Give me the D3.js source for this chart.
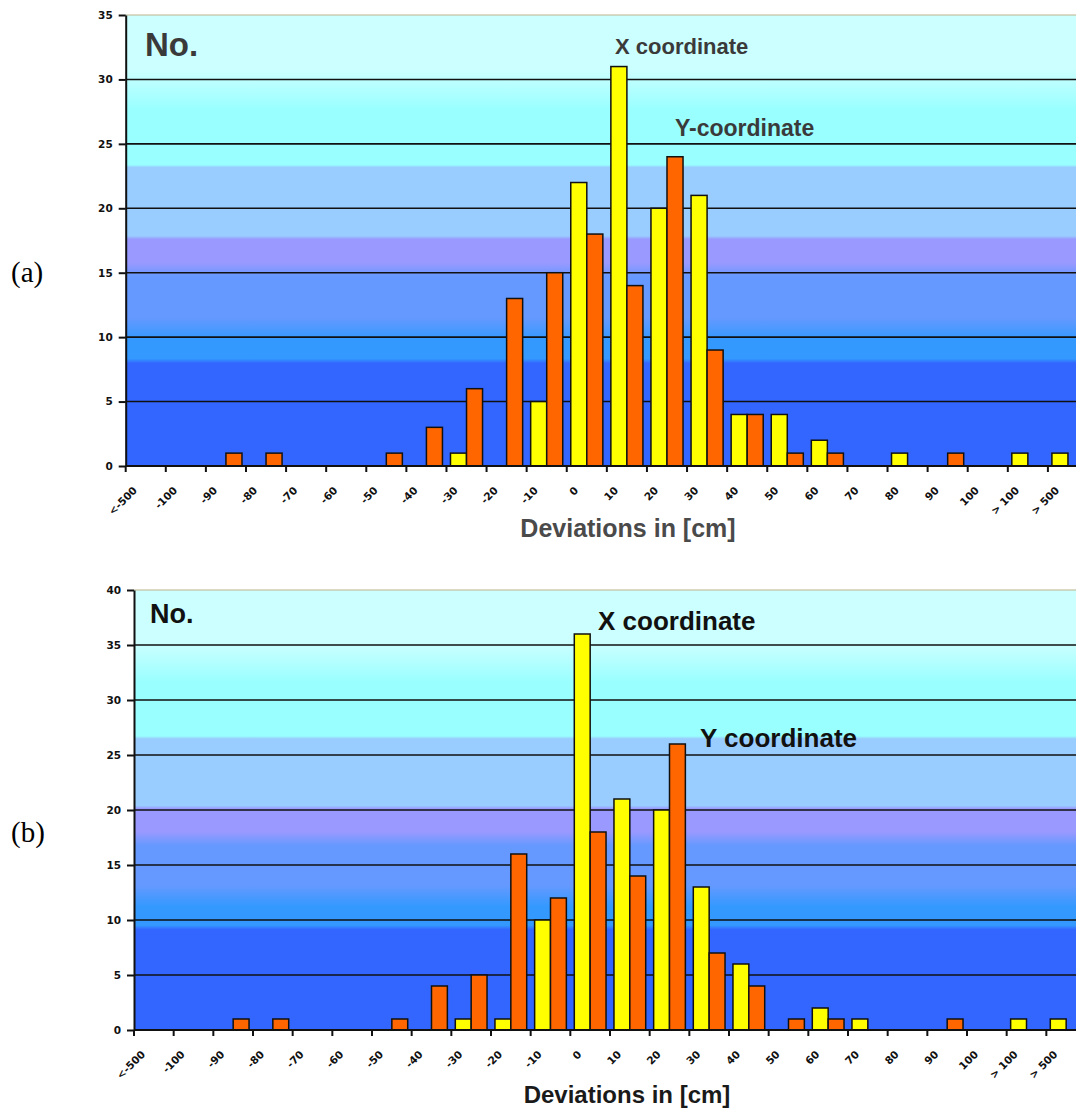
<!DOCTYPE html>
<html>
<head>
  <meta charset='utf-8'>
  <title>Deviations histogram</title>
  <script src='https://cdn.jsdelivr.net/npm/d3@7/dist/d3.min.js'></script>
  <style>
    body { margin: 0; background: #ffffff; }
  </style>
</head>
<body>
  <svg id='fig' width='1076' height='1111'></svg>
  <script>
    // bins of the deviation histogram
    const categories = ['<-500', '-100', '-90', '-80', '-70', '-60', '-50', '-40', '-30', '-20', '-10',
      '0', '10', '20', '30', '40', '50', '60', '70', '80', '90', '100', '> 100', '> 500'];
    const series = ['X coordinate', 'Y coordinate'];

    // panel (a)
    const xCoordA = [0, 0, 0, 0, 0, 0, 0, 0, 1, 0, 5, 22, 31, 20, 21, 4, 4, 2, 0, 1, 0, 0, 1, 1];
    const yCoordA = [0, 0, 1, 1, 0, 0, 1, 3, 6, 13, 15, 18, 14, 24, 9, 4, 1, 1, 0, 0, 1, 0, 0, 0];
    const yTicksA = [0, 5, 10, 15, 20, 25, 30, 35];

    // panel (b)
    const xCoordB = [0, 0, 0, 0, 0, 0, 0, 0, 1, 1, 10, 36, 21, 20, 13, 6, 0, 2, 1, 0, 0, 0, 1, 1];
    const yCoordB = [0, 0, 1, 1, 0, 0, 1, 4, 5, 16, 12, 18, 14, 26, 7, 4, 1, 1, 0, 0, 1, 0, 0, 0];
    const yTicksB = [0, 5, 10, 15, 20, 25, 30, 35, 40];

    const colors = { 'X coordinate': '#ffff00', 'Y coordinate': '#ff6600' };

    // excel style banded fill of the plot area
    const bandStops = [
      [0, '#ccffff'], [0.12, '#ccffff'], [0.21, '#99ffff'], [0.332, '#99ffff'],
      [0.338, '#99ccff'], [0.49, '#99ccff'], [0.497, '#9999ff'], [0.55, '#9999ff'],
      [0.58, '#6699ff'], [0.67, '#6699ff'], [0.72, '#3399ff'], [0.762, '#3399ff'],
      [0.772, '#3366ff'], [1, '#3366ff']
    ];

    const svg = d3.select('#fig');
    const defs = svg.append('defs');

    function drawPanel(p) {
      const g = svg.append('g');

      const x = d3.scaleBand().domain(categories).range([p.left, p.right]);
      const xSub = d3.scaleBand().domain(series).range([0, x.bandwidth()]).paddingOuter(0.25);
      const y = d3.scaleLinear().domain([0, p.yTicks[p.yTicks.length - 1]]).range([p.bottom, p.top]);

      const grad = defs.append('linearGradient')
          .attr('id', 'bg-' + p.id)
          .attr('x1', 0).attr('y1', 0).attr('x2', 0).attr('y2', 1);
      grad.selectAll('stop')
          .data(bandStops)
          .join('stop')
          .attr('offset', (d) => d[0])
          .attr('stop-color', (d) => d[1]);

      g.append('rect')
          .attr('x', p.left)
          .attr('y', p.top)
          .attr('width', p.right - p.left)
          .attr('height', p.bottom - p.top)
          .attr('fill', `url(#bg-${p.id})`);

      // top border
      g.append('line')
          .attr('x1', p.left).attr('x2', p.right)
          .attr('y1', p.top).attr('y2', p.top)
          .attr('stroke', '#bdb48c').attr('stroke-width', 1.2);

      // gridlines
      g.selectAll('line.grid')
          .data(p.yTicks.slice(1, -1))
          .join('line')
          .attr('class', 'grid')
          .attr('x1', p.left).attr('x2', p.right)
          .attr('y1', (d) => y(d)).attr('y2', (d) => y(d))
          .attr('stroke', '#111').attr('stroke-width', 1.6);

      // bars
      const rows = categories.map((c, i) => ({ cat: c, values: [p.xData[i], p.yData[i]] }));
      const bins = g.selectAll('g.bin')
          .data(rows)
          .join('g')
          .attr('class', 'bin')
          .attr('transform', (d) => `translate(${x(d.cat)},0)`);
      bins.selectAll('rect')
          .data((d) => series.map((s, k) => ({ s: s, v: d.values[k] })).filter((d) => d.v > 0))
          .join('rect')
          .attr('x', (d) => xSub(d.s))
          .attr('width', xSub.bandwidth())
          .attr('y', (d) => y(d.v))
          .attr('height', (d) => y(0) - y(d.v))
          .attr('fill', (d) => colors[d.s])
          .attr('stroke', '#111')
          .attr('stroke-width', 1.5);

      // y axis
      const yAxis = g.append('g')
          .attr('transform', `translate(${p.left},0)`)
          .call(d3.axisLeft(y).tickValues(p.yTicks).tickSize(7).tickPadding(6).tickSizeOuter(0));
      yAxis.select('.domain').attr('stroke', '#111').attr('stroke-width', 2);
      yAxis.selectAll('.tick line').attr('stroke', '#111').attr('stroke-width', 2);
      yAxis.selectAll('.tick text')
          .attr('font-family', 'DejaVu Sans').attr('font-weight', 'bold')
          .attr('font-size', 10.5).attr('fill', '#111');

      // x axis: ticks on bin boundaries, rotated labels
      const xAxis = g.append('g').attr('transform', `translate(0,${p.bottom})`);
      xAxis.append('line')
          .attr('x1', p.left).attr('x2', p.right)
          .attr('stroke', '#111').attr('stroke-width', 2);
      xAxis.selectAll('line.tick')
          .data(categories)
          .join('line')
          .attr('class', 'tick')
          .attr('x1', (d) => x(d)).attr('x2', (d) => x(d))
          .attr('y1', 0).attr('y2', 6)
          .attr('stroke', '#111').attr('stroke-width', 2);
      xAxis.selectAll('text')
          .data(categories)
          .join('text')
          .attr('transform', (d) => `translate(${x(d) + x.bandwidth() / 2 - 8},25) rotate(-45)`)
          .attr('text-anchor', 'end')
          .attr('font-family', 'DejaVu Sans').attr('font-weight', 'bold')
          .attr('font-size', 10.5).attr('fill', '#111')
          .text((d) => d);

      // annotations
      const txt = (t, xx, yy, size, fill) => g.append('text')
          .attr('x', xx).attr('y', yy)
          .attr('font-family', 'Liberation Sans, Arial, sans-serif')
          .attr('font-weight', 'bold')
          .attr('font-size', size)
          .attr('fill', fill)
          .text(t);
      txt('No.', p.no[0], p.no[1], p.no[2], p.ink);
      txt(series[0], p.lx[0], p.lx[1], p.lx[2], p.ink);
      txt(p.yLabel, p.ly[0], p.ly[1], p.ly[2], p.ink);
      g.append('text')
          .attr('x', p.title[0]).attr('y', p.title[1])
          .attr('text-anchor', 'middle')
          .attr('font-family', 'Liberation Sans, Arial, sans-serif')
          .attr('font-weight', 'bold')
          .attr('font-size', p.title[2])
          .attr('fill', p.titleInk)
          .text('Deviations in [cm]');

      svg.append('text')
          .attr('x', 11).attr('y', p.tag[1])
          .attr('font-family', 'Liberation Serif, Times New Roman, serif')
          .attr('font-size', 29)
          .attr('fill', '#000')
          .text(p.tag[0]);
    }

    drawPanel({
      id: 'a', left: 125.7, right: 1088, top: 15, bottom: 466,
      yTicks: yTicksA, xData: xCoordA, yData: yCoordA,
      yLabel: 'Y-coordinate', ink: '#3a3a3a', titleInk: '#4a4a4a',
      no: [145, 56, 33], lx: [615, 54, 22], ly: [675, 136, 23],
      title: [628, 537, 25], tag: ['(a)', 282]
    });

    drawPanel({
      id: 'b', left: 134, right: 1086, top: 590, bottom: 1030,
      yTicks: yTicksB, xData: xCoordB, yData: yCoordB,
      yLabel: 'Y coordinate', ink: '#111', titleInk: '#1a1a1a',
      no: [150, 623, 27], lx: [598, 630, 26], ly: [700, 747, 26],
      title: [627, 1103, 24], tag: ['(b)', 842]
    });
  </script>
</body>
</html>
